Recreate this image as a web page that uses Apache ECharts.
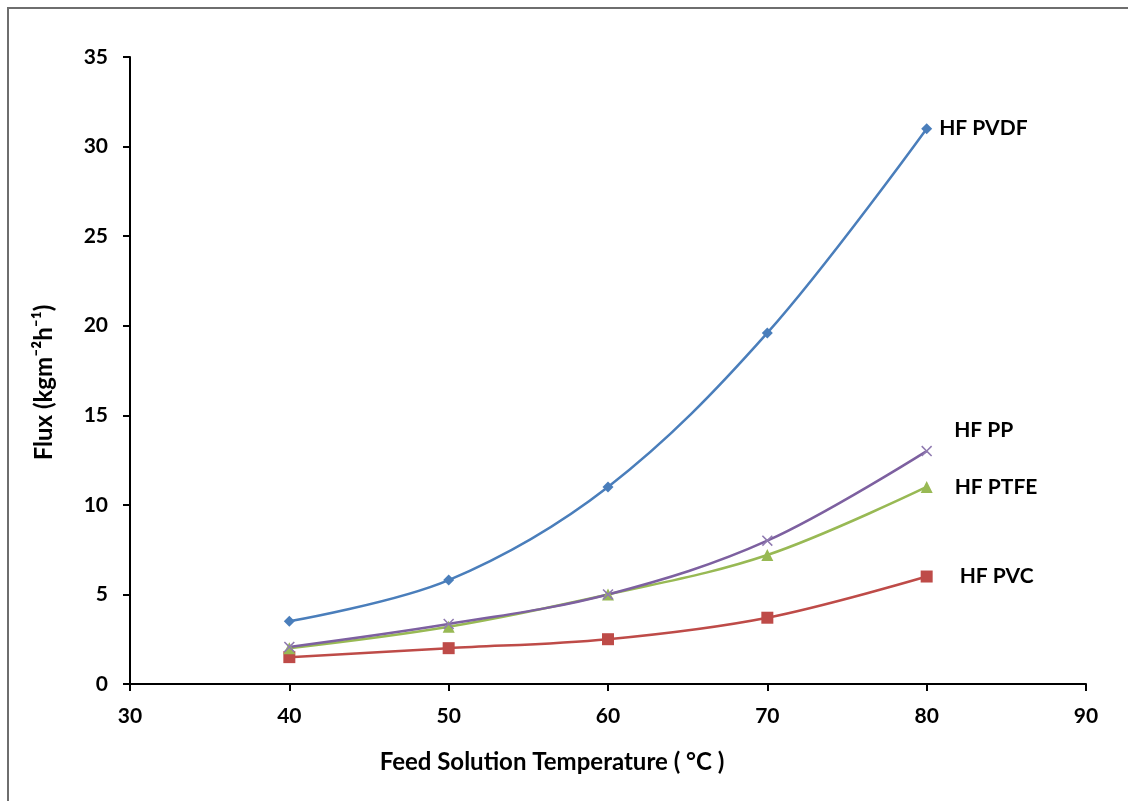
<!DOCTYPE html>
<html>
<head>
<meta charset="utf-8">
<script src="https://cdn.jsdelivr.net/npm/echarts@6/dist/echarts.min.js"></script>
<style>
  html, body { margin: 0; padding: 0; background: #fff; }
  #frame { position: absolute; left: 7px; top: 7px; width: 1140px; height: 820px;
           border-left: 2px solid #6e6e6e; border-top: 2px solid #6e6e6e; }
  #chart { position: absolute; left: 0; top: 0; width: 1128px; height: 801px; }
</style>
</head>
<body>
<div id="frame"></div>
<div id="chart"></div>
<script>
// feed temperature (°C)
var temps = [40, 50, 60, 70, 80];
// flux (kg m-2 h-1)
var pvdf = [3.5, 5.8, 11.0, 19.6, 31.0];
var pvc = [1.5, 2.0, 2.5, 3.7, 6.0];
var ptfe = [2.0, 3.2, 5.0, 7.2, 11.0];
var pp = [2.07, 3.35, 5.0, 8.0, 13.0];

var seriesNames = ['HF PVDF', 'HF PVC', 'HF PTFE', 'HF PP'];

var font = 'Lato, "Open Sans", sans-serif';

function makeData(vals, labelOpt) {
    var out = [];
    for (var i = 0; i < vals.length; i++) {
        var item = { value: [temps[i], vals[i]] };
        if (i === vals.length - 1) {
            item.label = Object.assign({
                show: true,
                formatter: '{a}',
                position: 'right',
                color: '#000',
                fontFamily: font,
                fontWeight: 'bold',
                fontSize: 21
            }, labelOpt);
        }
        out.push(item);
    }
    return out;
}

var crossPath = 'path://M1,0 L5,4 L9,0 L10,1 L6,5 L10,9 L9,10 L5,6 L1,10 L0,9 L4,5 L0,1 Z';

var myChart = echarts.init(document.getElementById('chart'));
var option = {
    backgroundColor: 'transparent',
    animation: false,
    grid: { left: 130, right: 42, top: 57, bottom: 117 },
    xAxis: {
        type: 'value',
        min: 30, max: 90, interval: 10,
        name: 'Feed Solution Temperature ( °C )',
        nameLocation: 'middle',
        nameGap: 66,
        nameTextStyle: { fontFamily: font, fontWeight: 'bold', fontSize: 24, color: '#000', padding: [0, 112, 0, 0] },
        axisLine: { lineStyle: { color: '#000', width: 2 } },
        axisTick: { show: true, length: 7, lineStyle: { color: '#000', width: 2 } },
        axisLabel: { fontFamily: font, fontWeight: 'bold', fontSize: 21, color: '#000', margin: 22 },
        splitLine: { show: false }
    },
    yAxis: {
        type: 'value',
        min: 0, max: 35, interval: 5,
        name: 'Flux (kgm⁻²h⁻¹)',
        nameLocation: 'middle',
        nameGap: 74,
        nameTextStyle: { fontFamily: font, fontWeight: 'bold', fontSize: 24, color: '#000', padding: [0, 24, 0, 0] },
        axisLine: { show: true, lineStyle: { color: '#000', width: 2 } },
        axisTick: { show: true, length: 7, lineStyle: { color: '#000', width: 2 } },
        axisLabel: { fontFamily: font, fontWeight: 'bold', fontSize: 21, color: '#000', margin: 22 },
        splitLine: { show: false }
    },
    series: [
        {
            name: seriesNames[0], type: 'line', smooth: 0.35,
            data: makeData(pvdf, { offset: [2, 0] }),
            symbol: 'diamond', symbolSize: 11,
            lineStyle: { color: '#4a7ebb', width: 2.5 },
            itemStyle: { color: '#4a7ebb' }
        },
        {
            name: seriesNames[1], type: 'line', smooth: 0.35,
            data: makeData(pvc, { offset: [22, 0] }),
            symbol: 'rect', symbolSize: 12,
            lineStyle: { color: '#be4b48', width: 2.5 },
            itemStyle: { color: '#be4b48' }
        },
        {
            name: seriesNames[2], type: 'line', smooth: 0.35,
            data: makeData(ptfe, { offset: [17, 0] }),
            symbol: 'triangle', symbolSize: 12,
            lineStyle: { color: '#98b954', width: 2.5 },
            itemStyle: { color: '#98b954' }
        },
        {
            name: seriesNames[3], type: 'line', smooth: 0.35,
            data: makeData(pp, { offset: [17, -21] }),
            symbol: crossPath, symbolSize: 11,
            lineStyle: { color: '#7d60a0', width: 2.5 },
            itemStyle: { color: '#8f7ab0' }
        }
    ]
};
myChart.setOption(option);
</script>
</body>
</html>
